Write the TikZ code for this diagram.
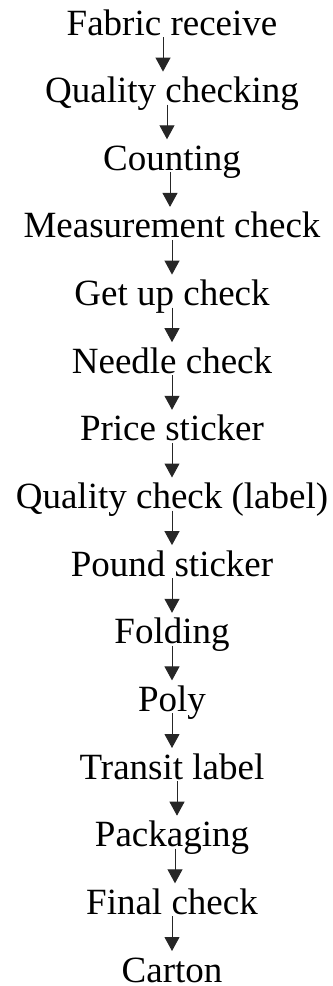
\documentclass[tikz,border=0pt]{standalone}
\usepackage{fontspec}
\setmainfont{Liberation Serif}
\usetikzlibrary{arrows.meta,calc}
\tikzset{
  stage/.style={anchor=base, inner sep=0pt, font=\fontsize{37bp}{40bp}\selectfont},
  arr/.style={line width=1bp, draw=black!85, -{Triangle[width=15bp,length=14bp]}}
}
\begin{document}
\begin{tikzpicture}[x=1bp,y=-1bp]
\useasboundingbox (0,0) rectangle (332,986);
\node[stage] (n1)  at (172,35)    {Fabric receive};
\node[stage] (n2)  at (172,102.6) {Quality checking};
\node[stage] (n3)  at (172,170.3) {Counting};
\node[stage] (n4)  at (172,237.9) {Measurement check};
\node[stage] (n5)  at (172,305.6) {Get up check};
\node[stage] (n6)  at (172,373.2) {Needle check};
\node[stage] (n7)  at (172,440.8) {Price sticker};
\node[stage] (n8)  at (172,508.5) {Quality check (label)};
\node[stage] (n9)  at (172,576.1) {Pound sticker};
\node[stage] (n10) at (172,643.8) {Folding};
\node[stage] (n11) at (172,711.4) {Poly};
\node[stage] (n12) at (172,779.0) {Transit label};
\node[stage] (n13) at (172,846.7) {Packaging};
\node[stage] (n14) at (172,914.3) {Final check};
\node[stage] (n15) at (172,982)   {Carton};
\foreach \a/\b/\dx in {n1/n2/-9, n2/n3/-5, n3/n4/-2, n4/n5/0, n5/n6/0, n6/n7/0, n7/n8/0,
  n8/n9/0, n9/n10/0, n10/n11/0, n11/n12/0, n12/n13/5, n13/n14/3, n14/n15/0}{
  \draw[arr] ($(\a.base)+(\dx,2)$) -- ($(\b.base)+(\dx,-31)$);
}
\end{tikzpicture}
\end{document}
